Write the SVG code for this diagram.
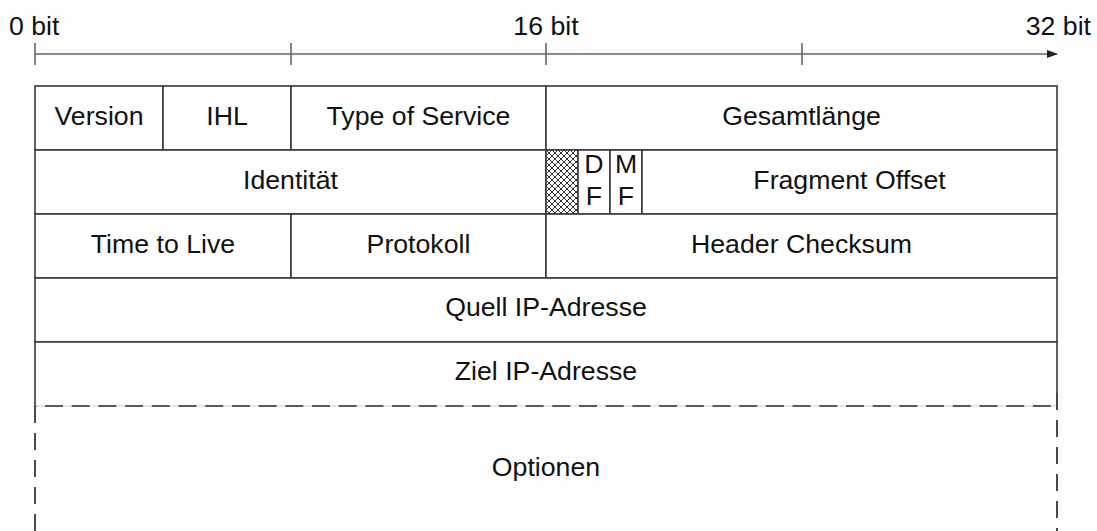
<svg xmlns="http://www.w3.org/2000/svg" width="1097" height="531" viewBox="0 0 1097 531">
  <defs>
    <style>
      text { font-family: "Liberation Sans", Arial, sans-serif; font-size: 26.7px; fill: #111; }
      .mid { text-anchor: middle; }
      .cell { fill: #fff; stroke: #3a3a3a; stroke-width: 1.6; }
      .edge { fill: none; stroke: #3a3a3a; stroke-width: 1.6; }
      .axis { stroke: #666; stroke-width: 1.6; fill: none; }
      .tick { stroke: #666; stroke-width: 1.6; }
      .dash-h { stroke: #5a5a5a; stroke-width: 2; stroke-dasharray: 18 8.7; stroke-dashoffset: 16.7; fill: none; }
      .dash-v { stroke: #4a4a4a; stroke-width: 2; stroke-dasharray: 17 10; fill: none; }
      .faint { stroke: #cfcfcf; stroke-width: 1; }
    </style>
    <pattern id="hatch" width="6" height="6" patternUnits="userSpaceOnUse" x="546" y="150">
      <rect width="6" height="6" fill="#fff"/>
      <path d="M0,0 L6,6 M6,0 L0,6" stroke="#333" stroke-width="1"/>
    </pattern>
    <marker id="arrow" markerWidth="11" markerHeight="8" refX="10" refY="4" orient="auto" markerUnits="userSpaceOnUse">
      <path d="M0,0 L11,4 L0,8 Z" fill="#222"/>
    </marker>
  </defs>

  <rect width="1097" height="531" fill="#fdfdfd"/>

  <!-- bit scale -->
  <g id="connectors">
    <path class="axis" d="M35,54 L1057,54" marker-end="url(#arrow)"/>
    <line class="tick" x1="35" y1="43" x2="35" y2="65"/>
    <line class="tick" x1="291" y1="43" x2="291" y2="65"/>
    <line class="tick" x1="546" y1="43" x2="546" y2="65"/>
    <line class="tick" x1="802" y1="43" x2="802" y2="65"/>
  </g>
  <g id="scale-labels">
    <text x="9" y="35">0 bit</text>
    <text class="mid" x="546" y="35">16 bit</text>
    <text x="1091" y="35" text-anchor="end">32 bit</text>
  </g>

  <!-- row 1 -->
  <g id="version">
    <rect class="cell" x="35" y="86" width="128" height="64"/>
    <text class="mid" x="99" y="125">Version</text>
  </g>
  <g id="ihl">
    <rect class="cell" x="163" y="86" width="128" height="64"/>
    <text class="mid" x="227" y="125">IHL</text>
  </g>
  <g id="tos">
    <rect class="cell" x="291" y="86" width="255" height="64"/>
    <text class="mid" x="418.5" y="125">Type of Service</text>
  </g>
  <g id="length">
    <rect class="cell" x="546" y="86" width="511" height="64"/>
    <text class="mid" x="801.5" y="125">Gesamtlänge</text>
  </g>

  <!-- row 2 -->
  <g id="identity">
    <rect class="cell" x="35" y="150" width="511" height="64"/>
    <text class="mid" x="290.5" y="189">Identität</text>
  </g>
  <g id="reserved">
    <rect x="546" y="150" width="32" height="64" fill="url(#hatch)" stroke="#3a3a3a" stroke-width="1.6"/>
  </g>
  <g id="df">
    <rect class="cell" x="578" y="150" width="32" height="64"/>
    <text class="mid" x="594" y="173">D</text>
    <text class="mid" x="594" y="205">F</text>
  </g>
  <g id="mf">
    <rect class="cell" x="610" y="150" width="32" height="64"/>
    <text class="mid" x="626" y="173">M</text>
    <text class="mid" x="626" y="205">F</text>
  </g>
  <g id="fragment-offset">
    <rect class="cell" x="642" y="150" width="415" height="64"/>
    <text class="mid" x="849.5" y="189">Fragment Offset</text>
  </g>

  <!-- row 3 -->
  <g id="ttl">
    <rect class="cell" x="35" y="214" width="256" height="64"/>
    <text class="mid" x="163" y="253">Time to Live</text>
  </g>
  <g id="protocol">
    <rect class="cell" x="291" y="214" width="255" height="64"/>
    <text class="mid" x="418.5" y="253">Protokoll</text>
  </g>
  <g id="checksum">
    <rect class="cell" x="546" y="214" width="511" height="64"/>
    <text class="mid" x="801.5" y="253">Header Checksum</text>
  </g>

  <!-- rows 4 and 5 -->
  <g id="source">
    <rect class="cell" x="35" y="278" width="1022" height="64"/>
    <text class="mid" x="546" y="316">Quell IP-Adresse</text>
  </g>
  <g id="destination">
    <rect x="35" y="342" width="1022" height="64" fill="#fff"/>
    <path class="edge" d="M35,406 L35,342 L1057,342 L1057,406"/>
    <text class="mid" x="546" y="380">Ziel IP-Adresse</text>
  </g>

  <!-- optional part, open at the bottom -->
  <g id="options">
    <line class="faint" x1="35" y1="406" x2="1057" y2="406"/>
    <path class="dash-h" d="M35,406 L1057,406"/>
    <path class="dash-v" d="M35,406 L35,531"/>
    <path class="dash-v" d="M1057,393 L1057,531"/>
    <text class="mid" x="546" y="476">Optionen</text>
  </g>
</svg>
